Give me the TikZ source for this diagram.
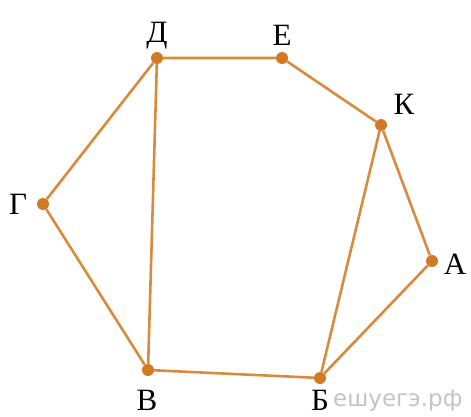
\documentclass[tikz,border=0pt]{standalone}
\usepackage{fontspec}
\setmainfont{Liberation Serif}
\newfontfamily\wmfont{DejaVu Sans}
\usepackage{xcolor}
\definecolor{cEdge}{HTML}{DA8A3C}
\definecolor{cDot}{HTML}{D07A26}
\definecolor{cMark}{HTML}{C4C4C4}
\usetikzlibrary{positioning}
\tikzset{
  vertex/.style={circle,fill=cDot,inner sep=0pt,minimum size=12pt},
  vlabel/.style={font=\fontsize{31}{34}\selectfont,inner sep=0pt},
  edge/.style={draw=cEdge,line width=2.6pt},
}

\begin{document}
\begin{tikzpicture}[x=1pt,y=-1pt]
  \useasboundingbox (0,0) rectangle (471,417);
  % watermark
  \node[font=\wmfont\fontsize{23}{26}\selectfont,text=cMark,anchor=west,inner sep=0pt] (wm) at (333,401) {ешуегэ.рф};
  % vertices
  \node[vertex] (d) at (157,58) {};
  \node[vertex] (e) at (282,58) {};
  \node[vertex] (k) at (381,125) {};
  \node[vertex] (a) at (432,261) {};
  \node[vertex] (b) at (320,378) {};
  \node[vertex] (v) at (148,370) {};
  \node[vertex] (g) at (43,204) {};
  % labels
  \node[vlabel] (ld) at (157,36) {Д};
  \node[vlabel] (le) at (282,35) {Е};
  \node[vlabel] (lk) at (404,104) {К};
  \node[vlabel] (la) at (455,264) {А};
  \node[vlabel] (lb) at (320,400) {Б};
  \node[vlabel] (lv) at (147,400) {В};
  \node[vlabel] (lg) at (18,204) {Г};
  % edges
  \draw[edge] (d) -- (e) -- (k) -- (a) -- (b) -- (v) -- (g) -- (d);
  \draw[edge] (d) -- (v);
  \draw[edge] (k) -- (b);
\end{tikzpicture}
\end{document}
